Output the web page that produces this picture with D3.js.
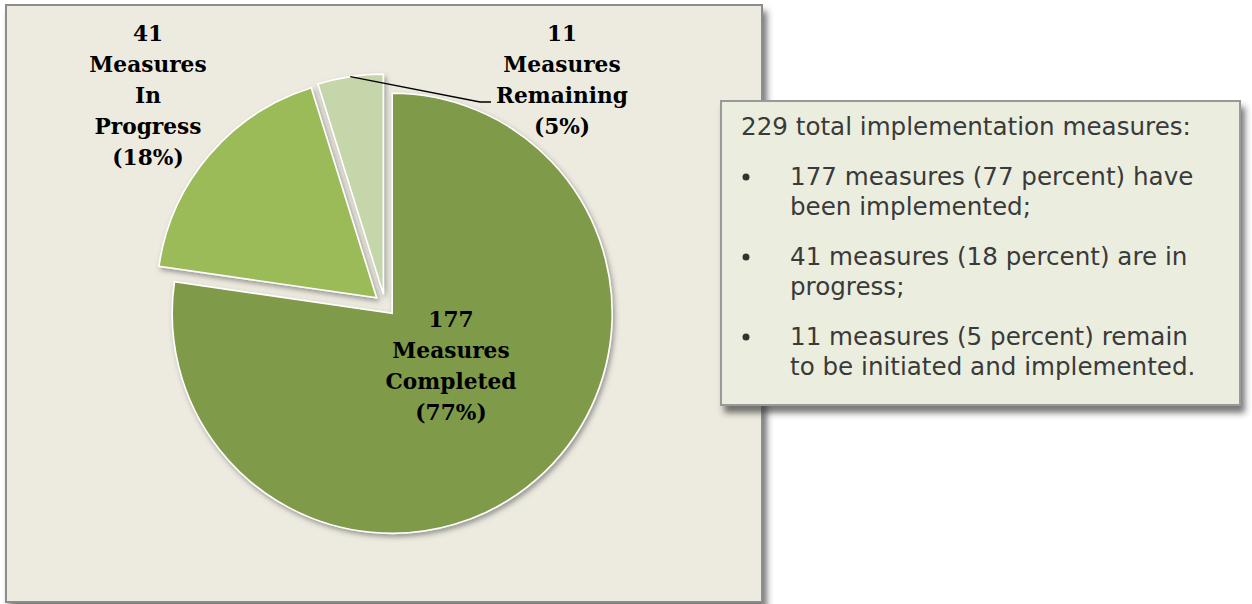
<!DOCTYPE html>
<html>
<head>
<meta charset="utf-8">
<script src="https://cdn.jsdelivr.net/npm/d3@7"></script>
<style>
  body { margin: 0; background: #fff; }
</style>
</head>
<body>
<div id="chart"></div>
<script>
// data
const categories = ["Completed", "In Progress", "Remaining"];
const counts = [177, 41, 11];
const percents = [77, 18, 5];
const sliceColors = ["#7f9a49", "#9bbb59", "#c5d6ab"];
const sliceLabels = [
  ["177", "Measures", "Completed", "(77%)"],
  ["41", "Measures", "In", "Progress", "(18%)"],
  ["11", "Measures", "Remaining", "(5%)"]
];
const noteTitle = "229 total implementation measures:";
const noteItems = [
  ["177 measures (77 percent) have", "been implemented;"],
  ["41 measures (18 percent) are in", "progress;"],
  ["11 measures (5 percent) remain", "to be initiated and implemented."]
];

const width = 1252, height = 604;
const center = {x: 385, y: 305},
  radius = 220,
  explode = 11;

// label anchors (centre of each text block)
const labelPos = [{x: 451, y: 366}, {x: 148, y: 95}, {x: 562, y: 80}];
const lineH = 31;

const svg = d3.select("#chart")
  .append("svg")
  .attr("width", width)
  .attr("height", height);

const defs = svg.append("defs");
defs.append("filter").attr("id", "sliceShadow")
  .attr("x", "-20%").attr("y", "-20%").attr("width", "140%").attr("height", "140%")
  .append("feDropShadow")
  .attr("dx", 2).attr("dy", 3).attr("stdDeviation", 2.5)
  .attr("flood-color", "#444").attr("flood-opacity", 0.5);
defs.append("filter").attr("id", "boxShadow")
  .attr("x", "-10%").attr("y", "-10%").attr("width", "125%").attr("height", "130%")
  .append("feDropShadow")
  .attr("dx", 4).attr("dy", 7).attr("stdDeviation", 3)
  .attr("flood-color", "#333").attr("flood-opacity", 0.65);

// chart panel
svg.append("rect")
  .attr("x", 6).attr("y", 5)
  .attr("width", 756).attr("height", 597)
  .attr("fill", "#edebe0")
  .attr("stroke", "#8c8c8c")
  .attr("stroke-width", 2)
  .attr("filter", "url(#boxShadow)");

// pie
const pie = d3.pie().sort(null).value(d => d);
const arcs = pie(counts);
const arc = d3.arc().innerRadius(0).outerRadius(radius);

const g = svg.append("g")
  .attr("transform", "translate(" + center.x + "," + center.y + ")");

function shift(d) {
  const a = (d.startAngle + d.endAngle) / 2;
  return [Math.sin(a) * explode, -Math.cos(a) * explode];
}

g.selectAll("path")
  .data(arcs)
  .enter().append("path")
  .attr("d", arc)
  .attr("transform", d => "translate(" + shift(d) + ")")
  .attr("fill", (d, i) => sliceColors[i])
  .attr("stroke", "#fff")
  .attr("stroke-width", 1.6)
  .attr("stroke-linejoin", "miter")
  .attr("filter", "url(#sliceShadow)");

// leader line for the small slice
const small = arcs[2];
const midA = (small.startAngle + small.endAngle) / 2;
const s = shift(small);
const p0 = [center.x + s[0] + Math.sin(midA) * radius, center.y + s[1] - Math.cos(midA) * radius];
svg.append("path")
  .attr("d", d3.line()([p0, [480, 102], [491, 102]]))
  .attr("fill", "none")
  .attr("stroke", "#000")
  .attr("stroke-width", 1.5);

// slice labels
sliceLabels.forEach((lines, i) => {
  const t = svg.append("text")
    .attr("text-anchor", "middle")
    .attr("font-family", "DejaVu Serif, serif")
    .attr("font-weight", "bold")
    .attr("font-size", 21.7)
    .attr("fill", "#000");
  lines.forEach((line, j) => {
    t.append("tspan")
      .attr("x", labelPos[i].x)
      .attr("y", labelPos[i].y + (j - (lines.length - 1) / 2) * lineH + 7.5)
      .text(line);
  });
});

// note box
svg.append("rect")
  .attr("x", 721).attr("y", 101)
  .attr("width", 519).attr("height", 304)
  .attr("fill", "#ebeedf")
  .attr("stroke", "#999")
  .attr("stroke-width", 2)
  .attr("filter", "url(#boxShadow)");

const note = svg.append("g")
  .attr("font-family", "DejaVu Sans, sans-serif")
  .attr("font-size", 24.6)
  .attr("fill", "#3a3a3a");

note.append("text")
  .attr("x", 741).attr("y", 135)
  .text(noteTitle);

const itemTop = [185, 265, 345];
noteItems.forEach((lines, i) => {
  note.append("circle")
    .attr("cx", 746).attr("cy", itemTop[i] - 8)
    .attr("r", 3.5)
    .attr("fill", "#333");
  lines.forEach((line, j) => {
    note.append("text")
      .attr("x", 790)
      .attr("y", itemTop[i] + j * 30)
      .text(line);
  });
});
</script>
</body>
</html>
